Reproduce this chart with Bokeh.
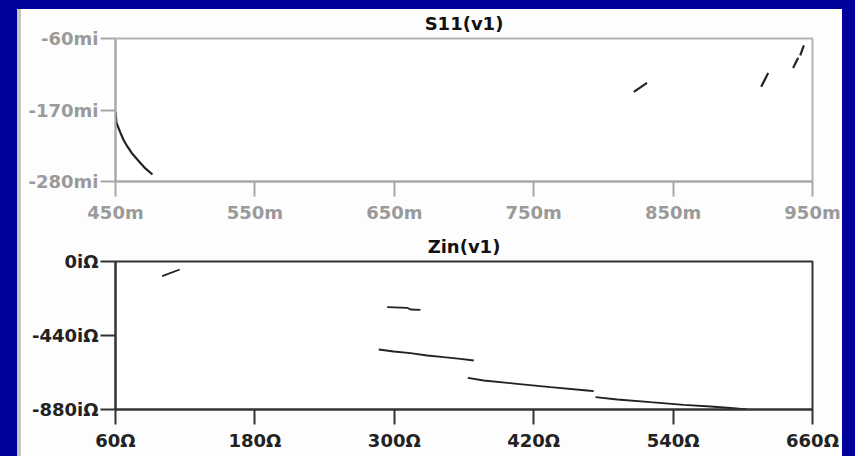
from bokeh.plotting import figure
from bokeh.layouts import column
from bokeh.models import Range1d, FixedTicker
from bokeh.embed import file_html
from bokeh.resources import INLINE

# ---- S11(v1) data (x in milli-units, y in milli-units) ----
s11_seg1_x = [450.0, 450.7, 453.6, 455.7, 458.6, 461.5, 465.8, 470.8, 476.5]
s11_seg1_y = [-173.0, -189.9, -205.1, -215.8, -226.5, -235.7, -246.4, -258.6, -269.3]
s11_seg2_x = [821.8, 831.3]
s11_seg2_y = [-142.0, -128.2]
s11_seg3_x = [913.2, 918.2]
s11_seg3_y = [-134.4, -113.0]
s11_seg4_x = [936.1, 939.7]
s11_seg4_y = [-105.4, -89.5]
s11_seg5_x = [941.2, 943.8]
s11_seg5_y = [-86.0, -70.7]

s11_xticks = [450, 550, 650, 750, 850, 950]
s11_xlabels = ["450m", "550m", "650m", "750m", "850m", "950m"]
s11_yticks = [-280, -170, -60]
s11_ylabels = ["-280mi", "-170mi", "-60mi"]
s11_title = "S11(v1)"

# ---- Zin(v1) data (x real part in ohm, y imaginary part in ohm) ----
zin_segA_x = [100.2, 115.3]
zin_segA_y = [-87.4, -47.6]
zin_segB_x = [293.9, 311.1, 313.9, 322.5]
zin_segB_y = [-271.7, -275.3, -285.4, -287.2]
zin_segC_x = [286.6, 299.5, 313.9, 328.3, 342.6, 356.9, 368.4]
zin_segC_y = [-523.2, -535.1, -545.2, -558.9, -569.0, -578.5, -588.6]
zin_segD_x = [363.3, 377.0, 405.8, 434.5, 466.0, 471.7]
zin_segD_y = [-691.5, -707.6, -727.2, -747.4, -767.0, -771.2]
zin_segE_x = [473.2, 491.9, 520.5, 549.2, 572.2, 589.4, 603.8]
zin_segE_y = [-806.9, -820.5, -836.6, -852.1, -862.2, -871.1, -880.0]

zin_xticks = [60, 180, 300, 420, 540, 660]
zin_xlabels = ["60Ω", "180Ω", "300Ω", "420Ω", "540Ω", "660Ω"]
zin_yticks = [-880, -440, 0]
zin_ylabels = ["-880iΩ", "-440iΩ", "0iΩ"]
zin_title = "Zin(v1)"

BLUE = "#00009a"
PANEL = "#fdfdfd"
FONT = "DejaVu Sans"


def make_fig(title, xr, yr, h, top_b, bot_b, axis_col, label_col, outline_col):
    p = figure(width=825, height=h, x_range=Range1d(*xr), y_range=Range1d(*yr),
               output_backend="svg", toolbar_location=None, title=title,
               min_border_left=98, min_border_right=30,
               min_border_top=top_b, min_border_bottom=bot_b,
               background_fill_color="white", border_fill_color=None)
    p.title.align = "center"
    p.title.text_font = FONT
    p.title.text_font_style = "bold"
    p.title.text_font_size = "18px"
    p.title.text_color = "#111111"
    p.xgrid.visible = False
    p.ygrid.visible = False
    p.outline_line_color = outline_col
    p.outline_line_width = 2
    for ax in (p.xaxis[0], p.yaxis[0]):
        ax.axis_line_color = axis_col
        ax.axis_line_width = 2
        ax.major_tick_line_color = axis_col
        ax.major_tick_line_width = 2
        ax.major_tick_out = 15
        ax.major_tick_in = 0
        ax.minor_tick_line_color = None
        ax.major_label_text_font = FONT
        ax.major_label_text_font_style = "bold"
        ax.major_label_text_font_size = "18px"
        ax.major_label_text_color = label_col
    p.yaxis[0].major_label_standoff = 2
    p.xaxis[0].major_label_standoff = 5
    return p


top = make_fig(s11_title, (450, 950), (-280, -60), 221, 34, 43,
               "#a8a8a8", "#9a9a9a", "#b4b4b4")
top.xaxis[0].ticker = FixedTicker(ticks=s11_xticks)
top.xaxis[0].major_label_overrides = dict(zip(s11_xticks, s11_xlabels))
top.yaxis[0].ticker = FixedTicker(ticks=s11_yticks)
top.yaxis[0].major_label_overrides = dict(zip(s11_yticks, s11_ylabels))
top.multi_line(xs=[s11_seg1_x, s11_seg2_x, s11_seg3_x, s11_seg4_x, s11_seg5_x],
               ys=[s11_seg1_y, s11_seg2_y, s11_seg3_y, s11_seg4_y, s11_seg5_y],
               line_color="#222222", line_width=2.2)

bot = make_fig(zin_title, (60, 660), (-880, 0), 231, 36, 47,
               "#333333", "#222222", "#333333")
bot.xaxis[0].ticker = FixedTicker(ticks=zin_xticks)
bot.xaxis[0].major_label_overrides = dict(zip(zin_xticks, zin_xlabels))
bot.yaxis[0].ticker = FixedTicker(ticks=zin_yticks)
bot.yaxis[0].major_label_overrides = dict(zip(zin_yticks, zin_ylabels))
bot.multi_line(xs=[zin_segA_x, zin_segB_x, zin_segC_x, zin_segD_x, zin_segE_x],
               ys=[zin_segA_y, zin_segB_y, zin_segC_y, zin_segD_y, zin_segE_y],
               line_color="#222222", line_width=1.8)

top.margin = (4, 13, 0, 17)
bot.margin = (0, 13, 0, 17)

p = column(top, bot, width=855, height=456,
           styles={"background-color": PANEL,
                   "box-shadow": (f"inset 17px 9px 0 0 {BLUE}, "
                                  f"inset -13px 0 0 0 {BLUE}, "
                                  "inset 21px 0 0 0 #c4c4c4")})

open("out.html", "w").write(file_html(p, INLINE))
